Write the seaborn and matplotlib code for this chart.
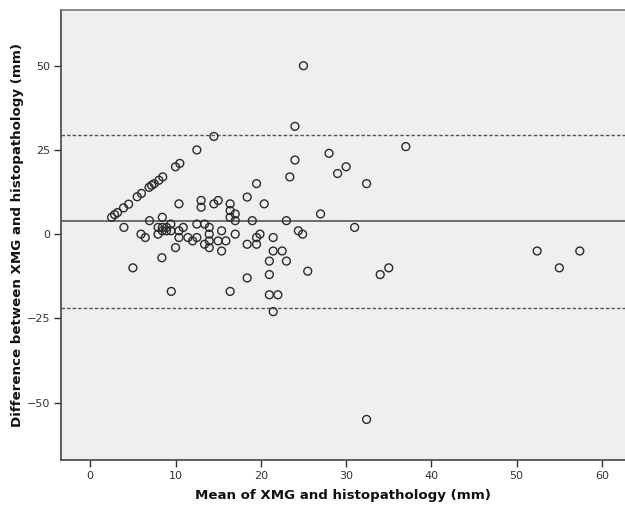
import matplotlib
matplotlib.use("Agg")
import matplotlib.pyplot as plt
import seaborn as sns
import pandas as pd

# Bland-Altman data: mean of XMG and histopathology (mm), difference (mm)
mean_vals = [
    2.5, 2.85, 3.2, 3.9, 4.5, 5.5, 6.0, 6.9, 7.2, 7.5, 8.05, 8.5, 10.0, 10.5, 12.5, 14.5,
    25.0, 24.0, 24.0, 23.4, 28.0, 29.0, 30.0, 37.0, 32.4, 19.5, 18.4, 20.4, 10.4, 13.0,
    13.0, 14.5, 15.0, 16.4, 16.4, 16.4, 17.0, 17.0, 19.0, 23.0, 27.0, 31.0,
    3.95, 6.95, 8.45, 12.5, 13.4, 13.95, 15.4, 24.4, 24.9, 5.95, 6.45, 7.95, 7.95, 8.45,
    8.45, 8.95, 8.95, 9.45, 9.45, 10.4, 10.9, 10.4, 11.45, 12.0, 12.5, 13.95, 13.95, 13.95,
    13.4, 15.0, 15.9, 15.4, 17.0, 18.4, 19.5, 19.5, 19.9, 21.45, 21.45, 22.5, 10.0, 8.4,
    5.0, 9.5, 21.0, 23.0, 21.0, 25.5, 18.4, 16.4, 21.0, 22.0, 21.45, 34.0, 35.0, 32.4,
    52.4, 57.4, 55.0,
]
diff_vals = [
    5, 5.8, 6.4, 7.8, 8.9, 11.1, 12.1, 13.9, 14.5, 15, 16, 17, 20, 21, 25, 29,
    50, 32, 22, 17, 24, 18, 20, 26, 15, 15, 11, 9, 9, 10,
    8, 9, 10, 9, 7, 5, 6, 4, 4, 4, 6, 2,
    2, 4, 5, 3, 3, 2, 1, 1, 0, 0, -1, 2, 0, 2,
    1, 2, 1, 3, 1, 1, 2, -1, -1, -2, -1, 0, -2, -4,
    -3, -2, -2, -5, 0, -3, -3, -1, 0, -1, -5, -5, -4, -7,
    -10, -17, -8, -8, -12, -11, -13, -17, -18, -18, -23, -12, -10, -55,
    -5, -5, -10,
]
mean_diff = 3.8
upper_loa = 29.4
lower_loa = -22.0
x_ticks = [0, 10, 20, 30, 40, 50, 60]
y_ticks = [-50, -25, 0, 25, 50]

df = pd.DataFrame({"mean": mean_vals, "diff": diff_vals})

sns.set_theme(style="white")
plt.rcParams["font.family"] = ["DejaVu Sans"]

fig = plt.figure(figsize=(6.25, 5.07), dpi=100)
ax = fig.add_axes([0.098, 0.093, 0.902, 0.887])
ax.set_facecolor("#efefef")

ax.axhline(mean_diff, color="#555555", lw=1.2, zorder=1)
ax.axhline(upper_loa, color="#555555", lw=1.0, ls=(0, (2.5, 1.5)), zorder=1)
ax.axhline(lower_loa, color="#555555", lw=1.0, ls=(0, (2.5, 1.5)), zorder=1)

sns.scatterplot(data=df, x="mean", y="diff", ax=ax, marker="o", s=32,
                facecolors="none", edgecolor="#2b2b2b", linewidth=1.0, zorder=3)

ax.set_xlim(-3.4, 62.7)
ax.set_ylim(-67, 66.5)
ax.set_xticks(x_ticks)
ax.set_yticks(y_ticks)
ax.tick_params(axis="both", which="major", direction="out", length=5, width=1,
               color="#333333", labelsize=8, labelcolor="#333333", pad=3, left=True, bottom=True)

for side in ["left", "bottom", "top"]:
    ax.spines[side].set_color("#444444")
    ax.spines[side].set_linewidth(1.2)
ax.spines["top"].set_color("#777777")
ax.spines["right"].set_visible(False)

ax.set_xlabel("Mean of XMG and histopathology (mm)", fontsize=9.6, fontweight="bold",
              color="#111111", labelpad=6)
ax.set_ylabel("Difference between XMG and histopathology (mm)", fontsize=9.6,
              fontweight="bold", color="#111111", labelpad=2)

fig.savefig("out.png", dpi=100)
